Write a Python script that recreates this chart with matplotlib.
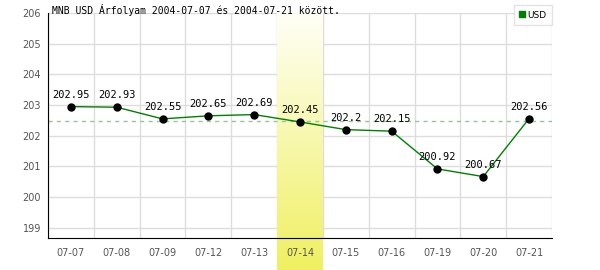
import numpy as np
import matplotlib
matplotlib.use("Agg")
import matplotlib.pyplot as plt

# data
dates = ["07-07", "07-08", "07-09", "07-12", "07-13", "07-14",
         "07-15", "07-16", "07-19", "07-20", "07-21"]
usd = [202.95, 202.93, 202.55, 202.65, 202.69, 202.45,
       202.2, 202.15, 200.92, 200.67, 202.56]
value_labels = ["202.95", "202.93", "202.55", "202.65", "202.69", "202.45",
                "202.2", "202.15", "200.92", "200.67", "202.56"]
ref_level = 202.48
highlight = "07-14"
y_ticks = [199, 200, 201, 202, 203, 204, 205, 206]
title = "MNB USD Árfolyam 2004-07-07 és 2004-07-21 között."

fig = plt.figure(figsize=(6, 2.7), dpi=100)
ax = fig.add_axes([0.08, 0.1185, 0.84, 0.8335])

x = np.arange(len(dates))
ax.set_xlim(-0.5, len(dates) - 0.5)
ax.set_ylim(198.67, 206)

# grid
for xv in np.arange(-0.5, len(dates), 1.0):
    ax.axvline(xv, color="#dddddd", lw=1, zorder=0.5)
for yv in y_ticks:
    ax.axhline(yv, color="#dddddd", lw=1, zorder=0.5)

# yellow gradient band for the highlighted day, runs to the bottom of the image
hi = dates.index(highlight)
grad = np.linspace(0, 1, 100).reshape(-1, 1)
c_top = np.array([1.0, 1.0, 0.97])
c_bot = np.array([0.94, 0.94, 0.38])
img = c_top + (c_bot - c_top) * grad[:, :, None]
ax.imshow(img, extent=(hi - 0.5, hi + 0.5, 197.6, 206), aspect="auto",
          origin="upper", clip_on=False, zorder=0.7)

ax.axhline(ref_level, color="#99c499", lw=1, ls=(0, (3, 3)), zorder=1)

ax.plot(x, usd, color="green", lw=1, zorder=2)
ax.plot(x, usd, "o", color="black", ms=5, zorder=3)
for xi, yi, lab in zip(x, usd, value_labels):
    ax.annotate(lab, (xi, yi), xytext=(0, 5), textcoords="offset points",
                ha="center", va="bottom", fontsize=7.5, color="black",
                family="DejaVu Sans Mono", zorder=4)

ax.set_xticks(x)
ax.set_xticklabels(dates)
ax.set_yticks(y_ticks)
ax.tick_params(length=0, labelsize=7, colors="#555555", pad=7)
ax.tick_params(axis="y", pad=5)

for s in ["top", "right"]:
    ax.spines[s].set_visible(False)
ax.spines["left"].set_color("black")
ax.spines["bottom"].set_color("black")
ax.spines["bottom"].set_zorder(5)

fig.text(0.087, 0.947, title, family="DejaVu Sans Mono", fontsize=7,
         ha="left", va="baseline")

leg = ax.legend([plt.Line2D([], [], marker="s", color="green", ls="none", ms=5)],
                ["USD"], loc="upper right", fontsize=6.5, frameon=True,
                fancybox=False, handlelength=0.6, handletextpad=0.3,
                borderpad=0.6, borderaxespad=0, bbox_to_anchor=(1.0, 1.035))
leg.get_frame().set_edgecolor("#dddddd")
leg.get_frame().set_linewidth(1)

fig.savefig("out.png", dpi=100)
